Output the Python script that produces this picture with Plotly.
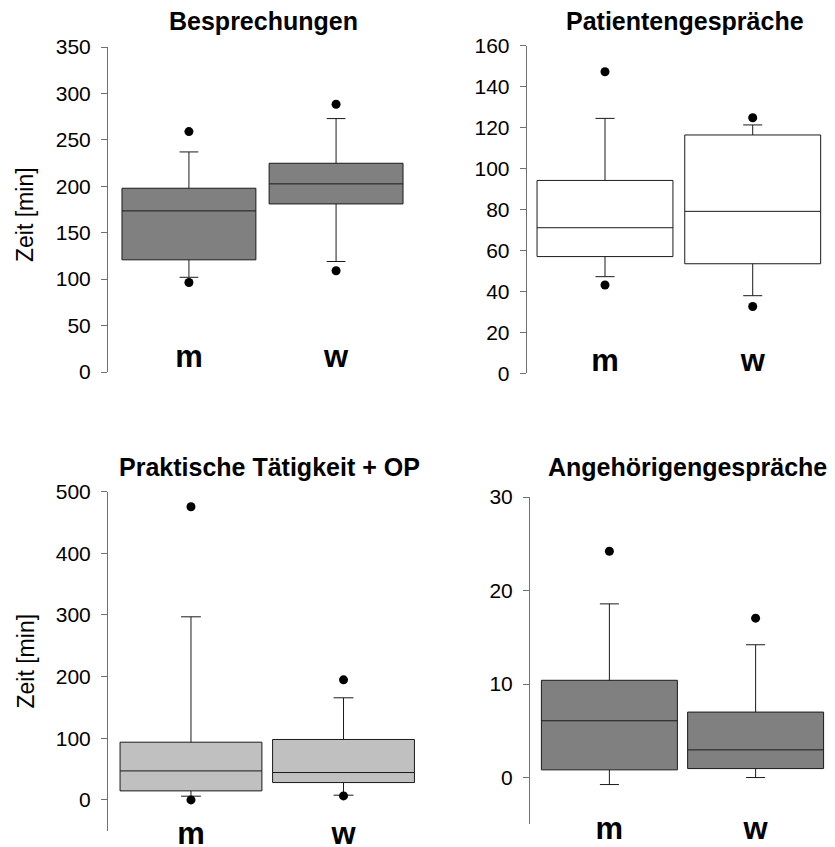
import plotly.graph_objects as go

# page body has an 8px margin; figure sized to fit the 835x847 window exactly
OFF = 8
W, H = 835 - OFF, 847 - OFF


def px(sx):
    return (sx - OFF) / W


def py(sy):
    return 1 - (sy - OFF) / H


categories = ["m", "w"]
cat_pos = [0, 1]

titles = ["Besprechungen", "Patientengespräche", "Praktische Tätigkeit + OP", "Angehörigengespräche"]

# Besprechungen
b_q1 = [120.8, 181.0]
b_med = [173.5, 202.6]
b_q3 = [197.9, 224.8]
b_lo = [102.0, 119.0]
b_hi = [237.0, 272.9]
b_out_x = [0, 0, 1, 1]
b_out_y = [258.9, 96.4, 288.3, 109.0]

# Patientengespräche
p_q1 = [57.0, 53.5]
p_med = [71.1, 79.1]
p_q3 = [94.2, 116.4]
p_lo = [47.2, 37.9]
p_hi = [124.5, 121.3]
p_out_x = [0, 0, 1, 1]
p_out_y = [147.3, 43.1, 124.8, 32.6]

# Praktische Tätigkeit + OP
t_q1 = [14.6, 28.1]
t_med = [47.0, 44.4]
t_q3 = [93.6, 98.0]
t_lo = [6.0, 7.6]
t_hi = [297.0, 165.6]
t_out_x = [0, 0, 1, 1]
t_out_y = [475.6, 0.0, 194.8, 6.5]

# Angehörigengespräche
a_q1 = [0.82, 0.96]
a_med = [6.07, 2.96]
a_q3 = [10.4, 7.0]
a_lo = [-0.75, 0.0]
a_hi = [18.57, 14.2]
a_out_x = [0, 1]
a_out_y = [24.2, 17.04]

FONT = "Liberation Sans, Arial, sans-serif"

panels = [
    dict(q1=b_q1, med=b_med, q3=b_q3, lo=b_lo, hi=b_hi, ox=b_out_x, oy=b_out_y,
         fill="#808080", yr=[0, 350], dtick=50,
         xd=[108, 417], yd=[47, 372], xr=[-0.55, 1.55], bw=0.91, labpos=335,
         title_xy=(263.5, 21)),
    dict(q1=p_q1, med=p_med, q3=p_q3, lo=p_lo, hi=p_hi, ox=p_out_x, oy=p_out_y,
         fill="#ffffff", yr=[0, 160], dtick=20,
         xd=[526.7, 831], yd=[45.7, 373.3], xr=[-0.53, 1.53], bw=0.92, labpos=339,
         title_xy=(685, 21)),
    dict(q1=t_q1, med=t_med, q3=t_q3, lo=t_lo, hi=t_hi, ox=t_out_x, oy=t_out_y,
         fill="#c0c0c0", yr=[-50, 500], dtick=100,
         xd=[108, 426.5], yd=[491.7, 830.7], xr=[-0.544, 1.544], bw=0.93, labpos=812,
         title_xy=(269, 466.7)),
    dict(q1=a_q1, med=a_med, q3=a_q3, lo=a_lo, hi=a_hi, ox=a_out_x, oy=a_out_y,
         fill="#808080", yr=[-5, 30], dtick=10,
         xd=[530, 835], yd=[497, 824.3], xr=[-0.543, 1.543], bw=0.93, labpos=807,
         title_xy=(687, 466.7)),
]

fig = go.Figure()
layout = dict(
    width=W, height=H, autosize=False,
    margin=dict(l=0, r=0, t=0, b=0, pad=0, autoexpand=False),
    paper_bgcolor="white", plot_bgcolor="white",
    showlegend=False,
    font=dict(family=FONT, color="black"),
    annotations=[],
)

for i, p in enumerate(panels):
    n = i + 1
    xa = "x" if n == 1 else f"x{n}"
    ya = "y" if n == 1 else f"y{n}"
    fig.add_trace(go.Box(
        x=cat_pos, q1=p["q1"], median=p["med"], q3=p["q3"],
        lowerfence=p["lo"], upperfence=p["hi"],
        width=p["bw"], whiskerwidth=0.14, boxpoints=False,
        fillcolor=p["fill"], line=dict(color="#1a1a1a", width=1),
        xaxis=xa, yaxis=ya, hoverinfo="skip",
    ))
    fig.add_trace(go.Scatter(
        x=p["ox"], y=p["oy"], mode="markers",
        marker=dict(color="black", size=9),
        xaxis=xa, yaxis=ya, hoverinfo="skip", cliponaxis=False,
    ))
    xkey = "xaxis" if n == 1 else f"xaxis{n}"
    ykey = "yaxis" if n == 1 else f"yaxis{n}"
    layout[xkey] = dict(
        domain=[px(p["xd"][0]), min(1.0, px(p["xd"][1]))], range=p["xr"],
        anchor="free", position=py(p["labpos"]), automargin=False,
        tickvals=cat_pos, ticktext=categories, ticks="",
        tickfont=dict(size=31, weight="bold", family=FONT, color="black"),
        showline=False, showgrid=False, zeroline=False, fixedrange=True,
    )
    layout[ykey] = dict(
        domain=[py(p["yd"][1]), py(p["yd"][0])], range=p["yr"],
        anchor=xa, tick0=0, dtick=p["dtick"], ticks="outside", ticklen=6,
        automargin=False,
        tickcolor="#707070", showline=True, linecolor="#707070", linewidth=1,
        tickfont=dict(size=21, family=FONT, color="black"),
        ticklabelstandoff=6,
        showgrid=False, zeroline=False, fixedrange=True,
    )
    layout["annotations"].append(dict(
        text=f"<b>{titles[i]}</b>", x=px(p["title_xy"][0]), y=py(p["title_xy"][1]),
        xref="paper", yref="paper", xanchor="center", yanchor="middle",
        showarrow=False, font=dict(size=25, family=FONT, color="black"),
    ))

for yc in (215, 661.5):
    layout["annotations"].append(dict(
        text="Zeit [min]", x=px(25), y=py(yc), xref="paper", yref="paper",
        xanchor="center", yanchor="middle", textangle=-90, showarrow=False,
        font=dict(size=23, family=FONT, color="black"),
    ))

fig.update_layout(**layout)
fig.write_html("out.html")
